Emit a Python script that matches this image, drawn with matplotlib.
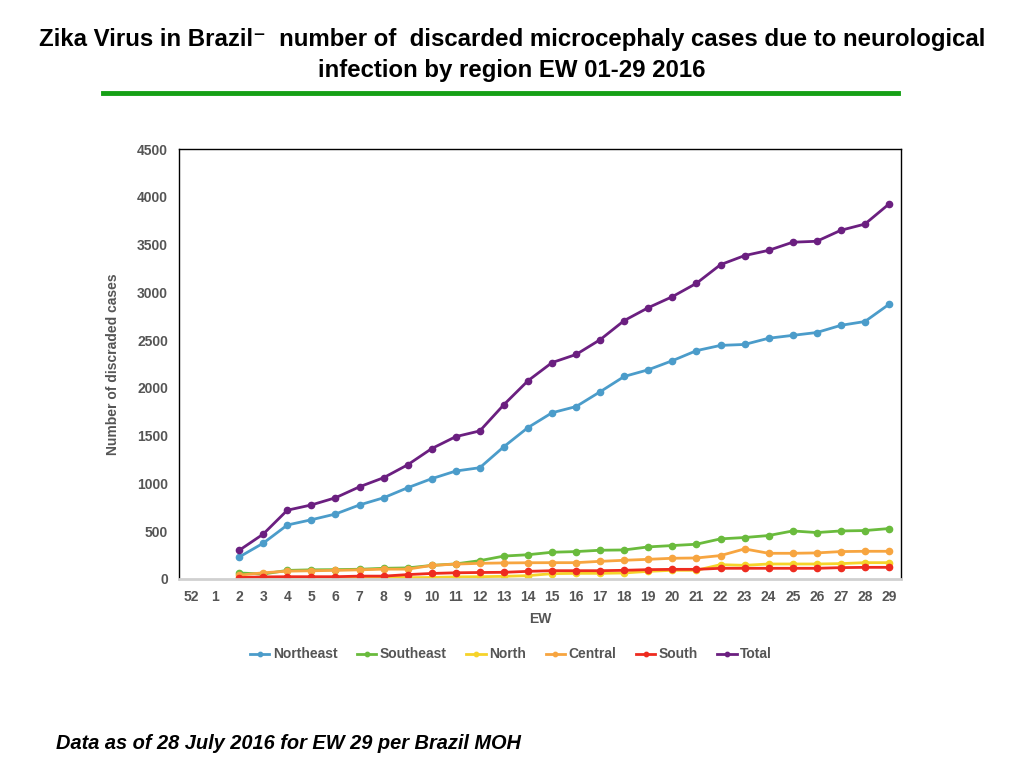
import numpy as np
import matplotlib.pyplot as plt

plt.rcParams['font.family'] = ['Liberation Sans', 'DejaVu Sans']

# semanas epidemiologicas (categorias del eje x)
weeks = ['52', '1'] + [str(w) for w in range(2, 30)]

# valores por region, EW 2 a EW 29
northeast = [230, 375, 565, 620, 680, 775, 850, 955, 1050, 1130, 1165, 1385, 1585, 1740,
             1805, 1960, 2120, 2190, 2285, 2390, 2445, 2455, 2520, 2550, 2580, 2655, 2695, 2875]
southeast = [63, 52, 90, 96, 98, 102, 112, 116, 142, 158, 192, 240, 254, 280,
             287, 301, 304, 336, 350, 364, 420, 434, 455, 503, 486, 503, 507, 528]
north = [12, 14, 15, 16, 16, 18, 20, 14, 16, 22, 24, 28, 35, 56,
         59, 59, 63, 80, 91, 91, 150, 143, 157, 157, 157, 161, 171, 171]
central = [40, 65, 82, 86, 90, 96, 103, 103, 142, 156, 164, 168, 170, 171,
           171, 185, 196, 206, 217, 220, 245, 315, 269, 269, 273, 287, 290, 290]
south = [15, 22, 24, 24, 24, 30, 30, 46, 58, 65, 68, 70, 80, 87,
         87, 87, 91, 98, 101, 101, 112, 112, 112, 112, 112, 119, 122, 122]
total = [300, 470, 720, 775, 850, 965, 1060, 1195, 1365, 1490, 1550, 1825, 2075, 2265,
         2350, 2505, 2705, 2840, 2955, 3095, 3290, 3385, 3440, 3525, 3535, 3650, 3715, 3925]

series = [
    ('Northeast', northeast, '#4b9cca'),
    ('Southeast', southeast, '#6abb3d'),
    ('North', north, '#f6d32a'),
    ('Central', central, '#f7a540'),
    ('South', south, '#ee2b1f'),
    ('Total', total, '#6b1f80'),
]

fig = plt.figure(figsize=(10.24, 7.68), dpi=100)
ax = fig.add_axes([0.1748, 0.2461, 0.7051, 0.5598])

x = np.arange(2, 30)
for name, vals, col in series:
    ax.plot(x, vals, color=col, lw=2, marker='o', ms=4.5, label=name)

ax.set_xlim(-0.5, 29.5)
ax.set_ylim(0, 4500)
ax.set_xticks(range(len(weeks)))
ax.set_xticklabels(weeks)
ax.set_yticks(range(0, 4501, 500))

grey = '#555555'
ax.tick_params(axis='both', length=0, labelsize=10, labelcolor=grey, pad=8)
for lab in ax.get_xticklabels() + ax.get_yticklabels():
    lab.set_fontweight('bold')
for s in ['left', 'top', 'right']:
    ax.spines[s].set_color('black')
    ax.spines[s].set_linewidth(1)
ax.spines['bottom'].set_color('#d0d0d0')
ax.spines['bottom'].set_linewidth(2)

ax.set_xlabel('EW', fontsize=10, fontweight='bold', color=grey, labelpad=6)
ax.set_ylabel('Number of discraded cases', fontsize=10, fontweight='bold', color=grey, labelpad=12)

ax.legend(loc='upper center', bbox_to_anchor=(0.46, -0.13), ncol=6, frameon=False,
          prop={'size': 10, 'weight': 'bold'}, labelcolor=grey, handlelength=1.4,
          handletextpad=0.25, columnspacing=1.4, markerscale=0.7)

fig.text(0.5, 0.948, 'Zika Virus in Brazil\u207b  number of  discarded microcephaly cases due to neurological',
         ha='center', va='center', fontsize=17.3, fontweight='bold')
fig.text(0.5, 0.908, 'infection by region EW 01-29 2016',
         ha='center', va='center', fontsize=17.3, fontweight='bold')
fig.add_artist(plt.Line2D([0.1006, 0.877], [0.879, 0.879], color='#15a015', lw=3.5,
                          transform=fig.transFigure))

fig.text(0.055, 0.032, 'Data as of 28 July 2016 for EW 29 per Brazil MOH',
         ha='left', va='center', fontsize=14.4, fontweight='bold', style='italic')

fig.savefig('out.png', dpi=100)
